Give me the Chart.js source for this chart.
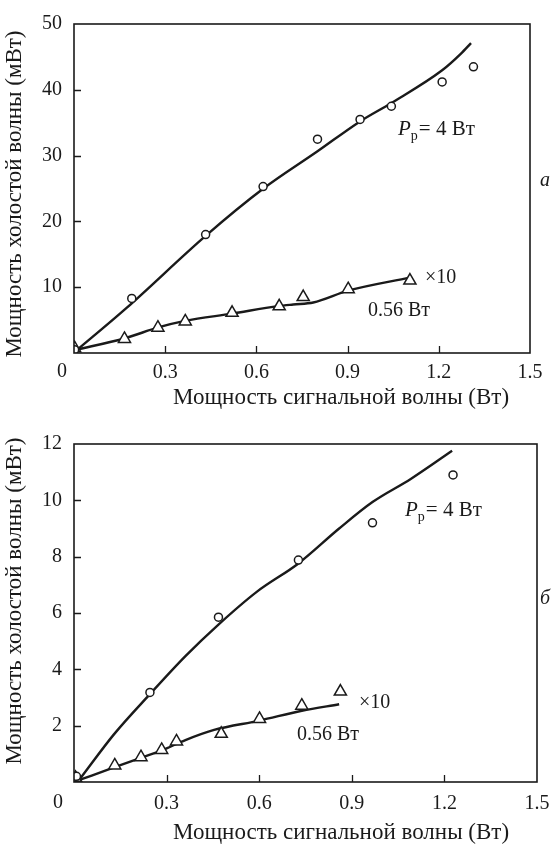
<!DOCTYPE html>
<html lang="ru">
<head>
<meta charset="UTF-8" />
<title>Мощность холостой волны</title>
<script src="https://cdn.jsdelivr.net/npm/chart.js"></script>
<style>
    body {
        margin: 0;
        background: #fff;
    }

    #wrap {
        position: relative;
        width: 560px;
        height: 845px;
    }

    canvas {
        position: absolute;
        left: 0;
    }

    #chartA {
        top: 0;
    }

    #chartB {
        top: 420px;
    }
</style>
</head>
<body>
<div id="wrap">
    <canvas id="chartA" width="560" height="420"></canvas>
    <canvas id="chartB" width="560" height="425"></canvas>
</div>
<script>
    // panel а: measured points and fitted curves, P_p = 4 Вт (circles) and 0.56 Вт x10 (triangles)
    const aCircleX = [0.002, 0.19, 0.433, 0.622, 0.801, 0.941, 1.044, 1.211, 1.314];
    const aCircleY = [0.5, 8.3, 18.0, 25.3, 32.5, 35.5, 37.5, 41.2, 43.5];
    const aCurveX = [0.002, 0.173, 0.433, 0.622, 0.801, 0.941, 1.044, 1.211, 1.273, 1.306];
    const aCurveY = [0.15, 6.85, 17.8, 24.95, 30.65, 35.2, 38.0, 42.96, 45.5, 47.1];
    const aTriX = [0.002, 0.166, 0.276, 0.366, 0.52, 0.675, 0.754, 0.902, 1.105];
    const aTriY = [0.74, 2.14, 3.85, 4.8, 6.1, 7.1, 8.5, 9.7, 11.0];
    const aTriCurveX = [0.003, 0.168, 0.277, 0.365, 0.519, 0.672, 0.721, 0.787, 0.902, 1.105];
    const aTriCurveY = [0.45, 2.24, 3.89, 4.88, 5.98, 7.12, 7.37, 7.67, 9.47, 11.46];

    // panel б
    const bCircleX = [0.008, 0.246, 0.468, 0.727, 0.967, 1.228];
    const bCircleY = [0.2, 3.18, 5.85, 7.88, 9.2, 10.9];
    const bCurveX = [0.02, 0.13, 0.246, 0.361, 0.468, 0.593, 0.727, 0.859, 0.967, 1.091, 1.225];
    const bCurveY = [0.12, 1.7, 3.12, 4.47, 5.59, 6.76, 7.76, 9.0, 9.94, 10.76, 11.76];
    const bTriX = [0.005, 0.132, 0.217, 0.284, 0.332, 0.477, 0.601, 0.738, 0.863];
    const bTriY = [0.15, 0.59, 0.88, 1.14, 1.44, 1.71, 2.24, 2.71, 3.21];
    const bTriCurveX = [0.02, 0.132, 0.217, 0.284, 0.361, 0.454, 0.601, 0.738, 0.859];
    const bTriCurveY = [0.08, 0.53, 0.86, 1.12, 1.49, 1.85, 2.18, 2.53, 2.76];

    // axes
    const xTicks = [0, 0.3, 0.6, 0.9, 1.2, 1.5];
    const aYTicks = [0, 10, 20, 30, 40, 50];
    const bYTicks = [0, 2, 4, 6, 8, 10, 12];

    const xTitle = 'Мощность сигнальной волны (Вт)';
    const yTitle = 'Мощность холостой волны (мВт)';

    const SERIF = '"Liberation Serif", "DejaVu Serif", "Times New Roman", serif';
    const INK = '#1a1a1a';

    const pts = (xs, ys) => xs.map((x, i) => ({ x: x, y: ys[i] }));

    function drawPp(ctx, x, y) {
        ctx.font = 'italic 21px ' + SERIF;
        ctx.fillText('P', x, y);
        let w = ctx.measureText('P').width;
        ctx.font = '14px ' + SERIF;
        ctx.fillText('p', x + w, y + 5);
        w += ctx.measureText('p').width + 1;
        ctx.font = '21px ' + SERIF;
        ctx.fillText('= 4 Вт', x + w, y);
    }

    // frame, inward tick marks and all free text of a panel
    function decor(opt) {
        return {
            id: 'decor',
            afterDraw(chart) {
                const ctx = chart.ctx;
                const a = chart.chartArea;
                const sx = chart.scales.x, sy = chart.scales.y;
                ctx.save();
                ctx.strokeStyle = INK;
                ctx.lineWidth = 1.6;
                ctx.strokeRect(a.left, a.top, a.right - a.left, a.bottom - a.top);

                ctx.lineWidth = 1.3;
                ctx.beginPath();
                xTicks.slice(1, -1).forEach(v => {
                    const px = Math.round(sx.getPixelForValue(v)) + 0.5;
                    ctx.moveTo(px, a.bottom);
                    ctx.lineTo(px, a.bottom - 7);
                });
                opt.yTicks.slice(1, -1).forEach(v => {
                    const py = Math.round(sy.getPixelForValue(v)) + 0.5;
                    ctx.moveTo(a.left, py);
                    ctx.lineTo(a.left + 7, py);
                });
                ctx.stroke();

                ctx.fillStyle = INK;
                ctx.textBaseline = 'alphabetic';
                ctx.textAlign = 'left';
                drawPp(ctx, opt.pp[0], opt.pp[1]);
                ctx.font = '20px ' + SERIF;
                ctx.fillText('×10', opt.x10[0], opt.x10[1]);
                ctx.fillText('0.56 Вт', opt.low[0], opt.low[1]);

                ctx.font = 'italic 20px ' + SERIF;
                ctx.textAlign = 'center';
                ctx.fillText(opt.letter, opt.letterPos[0], opt.letterPos[1]);

                ctx.font = '20px ' + SERIF;
                ctx.textBaseline = 'middle';
                ctx.fillText('0', opt.zero[0], opt.zero[1]);

                ctx.font = '23px ' + SERIF;
                ctx.textAlign = 'left';
                ctx.fillText(xTitle, opt.xTitle[0], opt.xTitle[1]);

                ctx.translate(opt.yTitle[0], opt.yTitle[1]);
                ctx.rotate(-Math.PI / 2);
                ctx.textAlign = 'center';
                ctx.fillText(yTitle, 0, 0);
                ctx.restore();
            }
        };
    }

    function buildPanel(id, d) {
        const marker = {
            borderColor: INK,
            backgroundColor: '#fff',
            borderWidth: 1.5,
            showLine: false,
            order: 0
        };
        const curve = {
            borderColor: INK,
            borderWidth: 2.4,
            showLine: true,
            pointRadius: 0,
            cubicInterpolationMode: 'monotone',
            order: 1
        };
        return new Chart(document.getElementById(id), {
            type: 'scatter',
            data: {
                datasets: [
                    { ...marker, data: pts(d.circX, d.circY), pointStyle: 'circle', pointRadius: 4 },
                    { ...marker, data: pts(d.triX, d.triY), pointStyle: 'triangle', pointRadius: 7 },
                    { ...curve, data: pts(d.curveX, d.curveY) },
                    { ...curve, data: pts(d.triCurveX, d.triCurveY) }
                ]
            },
            options: {
                responsive: false,
                animation: false,
                events: [],
                layout: { padding: d.padding },
                plugins: { legend: { display: false }, tooltip: { enabled: false } },
                scales: {
                    x: {
                        type: 'linear',
                        min: 0,
                        max: 1.5,
                        afterFit: s => { s.height = d.xAxisHeight; },
                        afterBuildTicks: s => { s.ticks = xTicks.map(v => ({ value: v })); },
                        border: { display: false },
                        grid: { display: false, drawTicks: false },
                        ticks: {
                            padding: d.xPad,
                            color: INK,
                            font: { family: SERIF, size: 20 },
                            maxRotation: 0,
                            callback: v => (v === 0 ? '' : String(v))
                        }
                    },
                    y: {
                        type: 'linear',
                        min: 0,
                        max: d.yTicks[d.yTicks.length - 1],
                        afterFit: s => { s.width = 74; },
                        afterBuildTicks: s => { s.ticks = d.yTicks.map(v => ({ value: v })); },
                        border: { display: false },
                        grid: { display: false, drawTicks: false },
                        ticks: {
                            padding: 12,
                            color: INK,
                            font: { family: SERIF, size: 20 },
                            callback: v => (v === 0 ? '' : String(v))
                        }
                    }
                }
            },
            plugins: [decor(d.decor)]
        });
    }

    buildPanel('chartA', {
        circX: aCircleX, circY: aCircleY,
        curveX: aCurveX, curveY: aCurveY,
        triX: aTriX, triY: aTriY,
        triCurveX: aTriCurveX, triCurveY: aTriCurveY,
        yTicks: aYTicks,
        padding: { top: 19, right: 30, left: 0, bottom: 0 },
        xAxisHeight: 67,
        xPad: 8,
        decor: {
            yTicks: aYTicks,
            pp: [398, 135],
            x10: [425, 283],
            low: [368, 316],
            letter: 'а',
            letterPos: [545, 186],
            zero: [62, 372],
            xTitle: [173, 398],
            yTitle: [15, 194]
        }
    });

    buildPanel('chartB', {
        circX: bCircleX, circY: bCircleY,
        curveX: bCurveX, curveY: bCurveY,
        triX: bTriX, triY: bTriY,
        triCurveX: bTriCurveX, triCurveY: bTriCurveY,
        yTicks: bYTicks,
        padding: { top: 22, right: 23, left: 0, bottom: 0 },
        xAxisHeight: 63,
        xPad: 10,
        decor: {
            yTicks: bYTicks,
            pp: [405, 96],
            x10: [359, 288],
            low: [297, 320],
            letter: 'б',
            letterPos: [545, 184],
            zero: [58, 383],
            xTitle: [173, 413],
            yTitle: [15, 181]
        }
    });
</script>
</body>
</html>
